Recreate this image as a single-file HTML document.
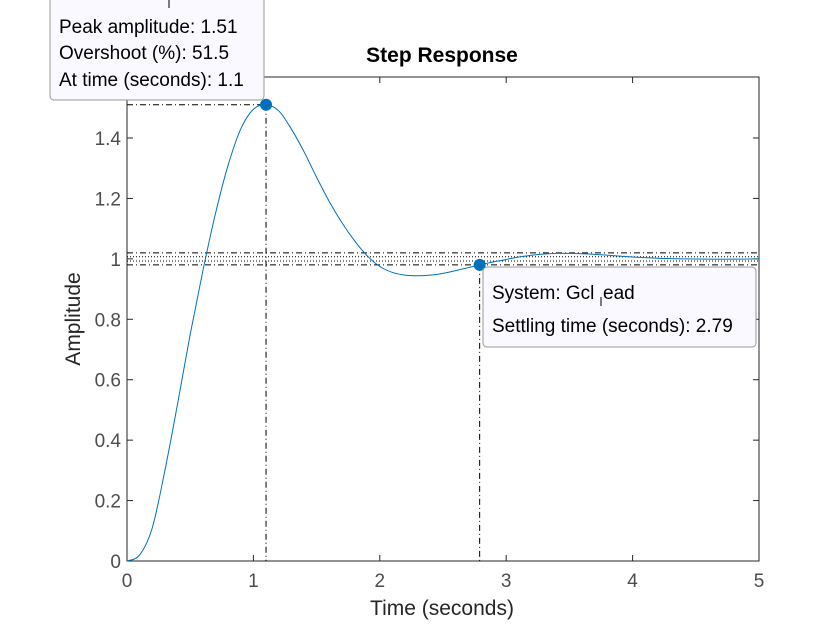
<!DOCTYPE html>
<html><head><meta charset="utf-8"><style>
body{margin:0;background:#fff;width:840px;height:630px;overflow:hidden}
svg{font-family:"Liberation Sans",Arial,sans-serif}
</style></head><body>
<svg id="chart" width="840" height="630">
</svg>
<script>
const times=[0,0.1,0.2,0.3,0.4,0.5,0.6,0.7,0.8,0.9,1.0,1.1,1.2,1.3,1.4,1.5,1.6,1.7,1.8,1.9,2.0,2.1,2.2,2.3,2.4,2.5,2.6,2.7,2.8,2.9,3.0,3.1,3.2,3.3,3.4,3.5,3.6,3.7,3.8,3.9,4.0,4.2,4.4,4.6,4.8,5.0];
const amplitude=[0,0.02,0.11,0.30,0.52,0.75,0.96,1.15,1.31,1.43,1.495,1.51,1.49,1.43,1.355,1.27,1.19,1.12,1.06,1.01,0.975,0.955,0.946,0.944,0.946,0.952,0.961,0.971,0.981,0.99,0.998,1.006,1.012,1.016,1.018,1.018,1.017,1.015,1.012,1.009,1.006,1.002,1.0,0.999,0.999,1.0];
const xTicks=[0,1,2,3,4,5];
const yTicks=[0,0.2,0.4,0.6,0.8,1,1.2,1.4];
const peak=[1.1,1.51];
const settle=[2.79,0.98];
const X0=127,X1=759,Y0=561,YT=77;
const xs=t=>X0+(X1-X0)*t/5;
const ys=v=>Y0-(Y0-138)*v/1.4;
const svg=document.getElementById('chart');
const NS='http://www.w3.org/2000/svg';
function mk(tag,attrs,parent){const e=document.createElementNS(NS,tag);for(const k in attrs)e.setAttribute(k,attrs[k]);(parent||svg).appendChild(e);return e;}
let e;
e=mk('rect',{x:X0,y:YT,width:X1-X0,height:Y0-YT,fill:'#fff',stroke:'#262626','stroke-width':1});


xTicks.forEach(t=>{
 mk('line',{x1:xs(t),x2:xs(t),y1:Y0,y2:Y0-6,stroke:'#262626'});
 mk('line',{x1:xs(t),x2:xs(t),y1:YT,y2:YT+6,stroke:'#262626'});
 const l=mk('text',{x:xs(t),y:Y0+26,'text-anchor':'middle','font-size':19,fill:'#4d4d4d'});l.textContent=t;
 
 
});
yTicks.forEach(v=>{
 mk('line',{x1:X0,x2:X0+6,y1:ys(v),y2:ys(v),stroke:'#262626'});
 mk('line',{x1:X1,x2:X1-6,y1:ys(v),y2:ys(v),stroke:'#262626'});
 const l=mk('text',{x:X0-6,y:ys(v)+7,'text-anchor':'end','font-size':19,fill:'#4d4d4d'});l.textContent=v;
 
 
});
[1.02,0.98].forEach(v=>mk('line',{x1:X0,x2:X1,y1:ys(v),y2:ys(v),stroke:'#000','stroke-width':1,'stroke-dasharray':'6,3,1,3'}));
[1.007,0.993].forEach(v=>mk('line',{x1:X0,x2:X1,y1:ys(v),y2:ys(v),stroke:'#000','stroke-width':1,'stroke-dasharray':'1,2'}));
mk('line',{x1:xs(peak[0]),x2:xs(peak[0]),y1:ys(peak[1]),y2:Y0,stroke:'#000','stroke-dasharray':'6,3,1,3'});
mk('line',{x1:X0,x2:xs(peak[0]),y1:ys(peak[1]),y2:ys(peak[1]),stroke:'#000','stroke-dasharray':'6,3,1,3'});
mk('line',{x1:xs(settle[0]),x2:xs(settle[0]),y1:ys(settle[1]),y2:Y0,stroke:'#000','stroke-dasharray':'6,3,1,3'});
const P=times.map((t,i)=>[xs(t),ys(amplitude[i])]);
let d='M'+P[0][0]+','+P[0][1];
for(let i=0;i<P.length-1;i++){const p0=P[i-1]||P[i],p1=P[i],p2=P[i+1],p3=P[i+2]||P[i+1];
 d+=` C${p1[0]+(p2[0]-p0[0])/6},${p1[1]+(p2[1]-p0[1])/6} ${p2[0]-(p3[0]-p1[0])/6},${p2[1]-(p3[1]-p1[1])/6} ${p2[0]},${p2[1]}`;}
e=mk('path',{d:d,fill:'none',stroke:'#0072bd','stroke-width':1});


e=mk('circle',{cx:xs(peak[0]),cy:ys(peak[1]),r:6,fill:'#0072bd'});


e=mk('circle',{cx:xs(settle[0]),cy:ys(settle[1]),r:6,fill:'#0072bd'});


e=mk('text',{x:442,y:62,'text-anchor':'middle','font-size':21,'font-weight':'bold',fill:'#000'});e.textContent='Step Response';


e=mk('text',{x:442,y:615,'text-anchor':'middle','font-size':21,fill:'#262626'});e.textContent='Time (seconds)';


e=mk('text',{x:0,y:0,'text-anchor':'middle','font-size':21,fill:'#262626',transform:'translate(80,319) rotate(-90)'});e.textContent='Amplitude';


const g1=mk('g',{});


mk('rect',{x:50,y:-10,width:214,height:110,rx:4,fill:'#f9f9ff',stroke:'#999'},g1);
mk('line',{x1:169,x2:169,y1:0,y2:8,stroke:'#000'},g1);
[['Peak amplitude: 1.51',33],['Overshoot (%): 51.5',59],['At time (seconds): 1.1',86]].forEach(([s,y])=>{const t=mk('text',{x:59,y:y,'font-size':19,fill:'#000'},g1);t.textContent=s;});
const g2=mk('g',{});


mk('rect',{x:483,y:267,width:273,height:80,rx:4,fill:'#f9f9ff',stroke:'#999'},g2);
let t=mk('text',{x:492,y:299,'font-size':19,fill:'#000'},g2);t.textContent='System: Gcl';
mk('line',{x1:601,x2:601,y1:297,y2:306,stroke:'#000'},g2);
t=mk('text',{x:603,y:299,'font-size':19,fill:'#000'},g2);t.textContent='ead';
t=mk('text',{x:492,y:332,'font-size':19,fill:'#000'},g2);t.textContent='Settling time (seconds): 2.79';
</script>
</body></html>
